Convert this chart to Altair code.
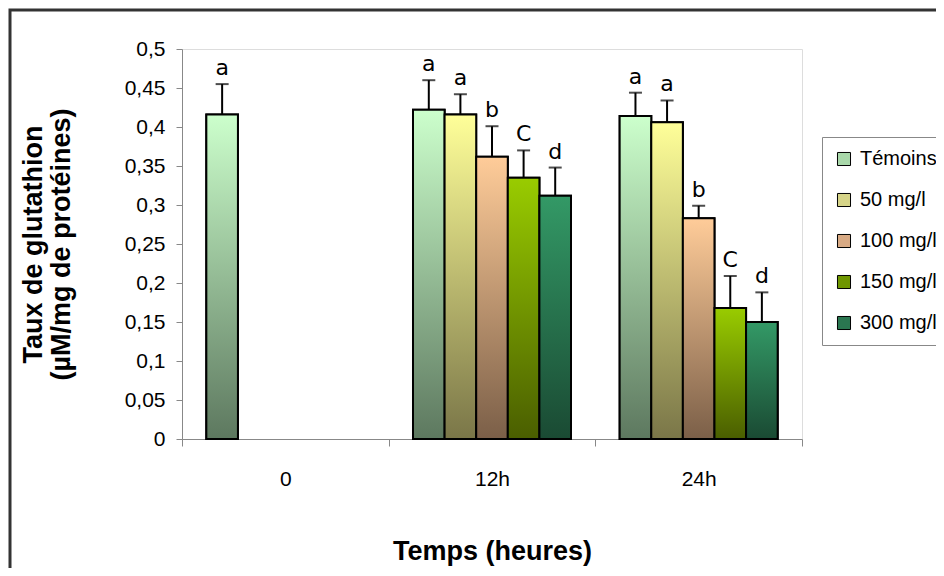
import altair as alt
import pandas as pd

# ---- data ----
times = ["0", "12h", "24h"]
series = ["Témoins", "50 mg/l", "100 mg/l", "150 mg/l", "300 mg/l"]

time_col = ["0", "12h", "12h", "12h", "12h", "12h", "24h", "24h", "24h", "24h", "24h"]
series_col = ["Témoins",
              "Témoins", "50 mg/l", "100 mg/l", "150 mg/l", "300 mg/l",
              "Témoins", "50 mg/l", "100 mg/l", "150 mg/l", "300 mg/l"]
values = [0.416,
          0.422, 0.416, 0.362, 0.335, 0.312,
          0.414, 0.406, 0.283, 0.168, 0.150]
errors = [0.039,
          0.038, 0.026, 0.039, 0.035, 0.036,
          0.030, 0.028, 0.016, 0.041, 0.038]
letters = ["a",
           "a", "a", "b", "C", "d",
           "a", "a", "b", "C", "d"]
y_ticks = [0, 0.05, 0.1, 0.15, 0.2, 0.25, 0.3, 0.35, 0.4, 0.45, 0.5]

top_colors = ["#ccffcc", "#ffff99", "#ffcc99", "#99cc00", "#339966"]
bottom_colors = ["#5d785f", "#7a7648", "#7b5f48", "#4a5e00", "#1a4a33"]
mid_colors = ["#a9d8aa", "#d6d488", "#d8aa84", "#6f9600", "#2a7650"]

df = pd.DataFrame({"time": time_col, "series": series_col, "value": values,
                   "sd": errors, "letter": letters})

W, H = 620, 390
FONT = "Liberation Sans"

base = alt.Chart(df).transform_calculate(err="datum.value + datum.sd")

x_enc = alt.X("time:N",
              scale=alt.Scale(domain=times, paddingInner=0, paddingOuter=0),
              axis=alt.Axis(title="Temps (heures)", labelAngle=0, tickBand="extent",
                            labelFont=FONT, labelFontSize=21, labelColor="black",
                            labelPadding=22, tickSize=7, tickColor="#888",
                            domainColor="#888", titleFont=FONT, titleFontSize=27,
                            titleFontWeight="bold", titleColor="black",
                            titleX=W / 2, titleY=120, titleBaseline="alphabetic",
                            titleAnchor="middle"))
xo_enc = alt.XOffset("series:N",
                     scale=alt.Scale(domain=series, paddingInner=0, paddingOuter=0.77))
y_scale = alt.Scale(domain=[0, 0.5], nice=False)
y_axis = alt.Axis(values=y_ticks,
                  labelExpr="replace(format(datum.value, '.2~f'), '.', ',')",
                  labelOverlap=False,
                  labelFont=FONT, labelFontSize=21, labelColor="black",
                  labelPadding=11, tickSize=6, tickColor="#888",
                  domainColor="#888", grid=False,
                  title=["Taux de glutathion", "(µM/mg de protéines)"],
                  titleFont=FONT, titleFontSize=27, titleFontWeight="bold",
                  titleColor="black", titleAngle=270, titleLineHeight=28,
                  titleX=-162, titleY=H / 2, titleAlign="center",
                  titleBaseline="top")
y_enc = alt.Y("value:Q", scale=y_scale, axis=y_axis)
y_err = alt.Y("err:Q", scale=y_scale, axis=y_axis)

frame = alt.Chart(pd.DataFrame({"k": [0]})).mark_rect(
    fill="white", fillOpacity=0, stroke="#333", strokeWidth=3).encode(
    x=alt.value(-172), x2=alt.value(W + 200), y=alt.value(-39), y2=alt.value(H + 200))

solid = base.mark_bar(stroke="black", strokeWidth=2).encode(
    x=x_enc, xOffset=xo_enc, y=y_enc,
    color=alt.Color("series:N",
                    scale=alt.Scale(domain=series, range=mid_colors),
                    legend=alt.Legend(orient="none", legendX=640, legendY=88, title=None,
                                      symbolType="square", symbolSize=170,
                                      symbolStrokeColor="black", symbolStrokeWidth=1,
                                      symbolOpacity=1, labelFont=FONT, labelFontSize=20,
                                      labelColor="black", labelOffset=6, rowPadding=21,
                                      padding=12, strokeColor="#888", fillColor="white",
                                      labelLimit=300)))

grad_layers = []
for s, t, b in zip(series, top_colors, bottom_colors):
    grad = alt.Gradient(gradient="linear",
                        stops=[alt.GradientStop(color=t, offset=0),
                               alt.GradientStop(color=b, offset=1)],
                        x1=0, x2=0, y1=0, y2=1)
    grad_layers.append(
        base.transform_filter(alt.datum.series == s)
        .mark_bar(color=grad, stroke="black", strokeWidth=2)
        .encode(x=x_enc, xOffset=xo_enc, y=y_enc))

rules = base.mark_rule(color="black", strokeWidth=2).encode(
    x=x_enc, xOffset=xo_enc, y=y_enc, y2="err:Q")
caps = base.mark_tick(color="black", thickness=2, size=13, orient="horizontal").encode(
    x=x_enc, xOffset=xo_enc, y=y_err)
texts = base.mark_text(font="DejaVu Sans", fontSize=22, baseline="alphabetic",
                       dy=-9, color="black").encode(
    x=x_enc, xOffset=xo_enc, y=y_err, text="letter:N")

chart = alt.layer(frame, solid, *grad_layers, rules, caps, texts).properties(
    width=W, height=H,
    autosize=alt.AutoSizeParams(type="none"),
    padding={"left": 174, "top": 41, "right": 134, "bottom": 129},
).configure_view(stroke=None).configure(background="white")

chart.save("out.html", embed_options={"renderer": "svg", "actions": False})
